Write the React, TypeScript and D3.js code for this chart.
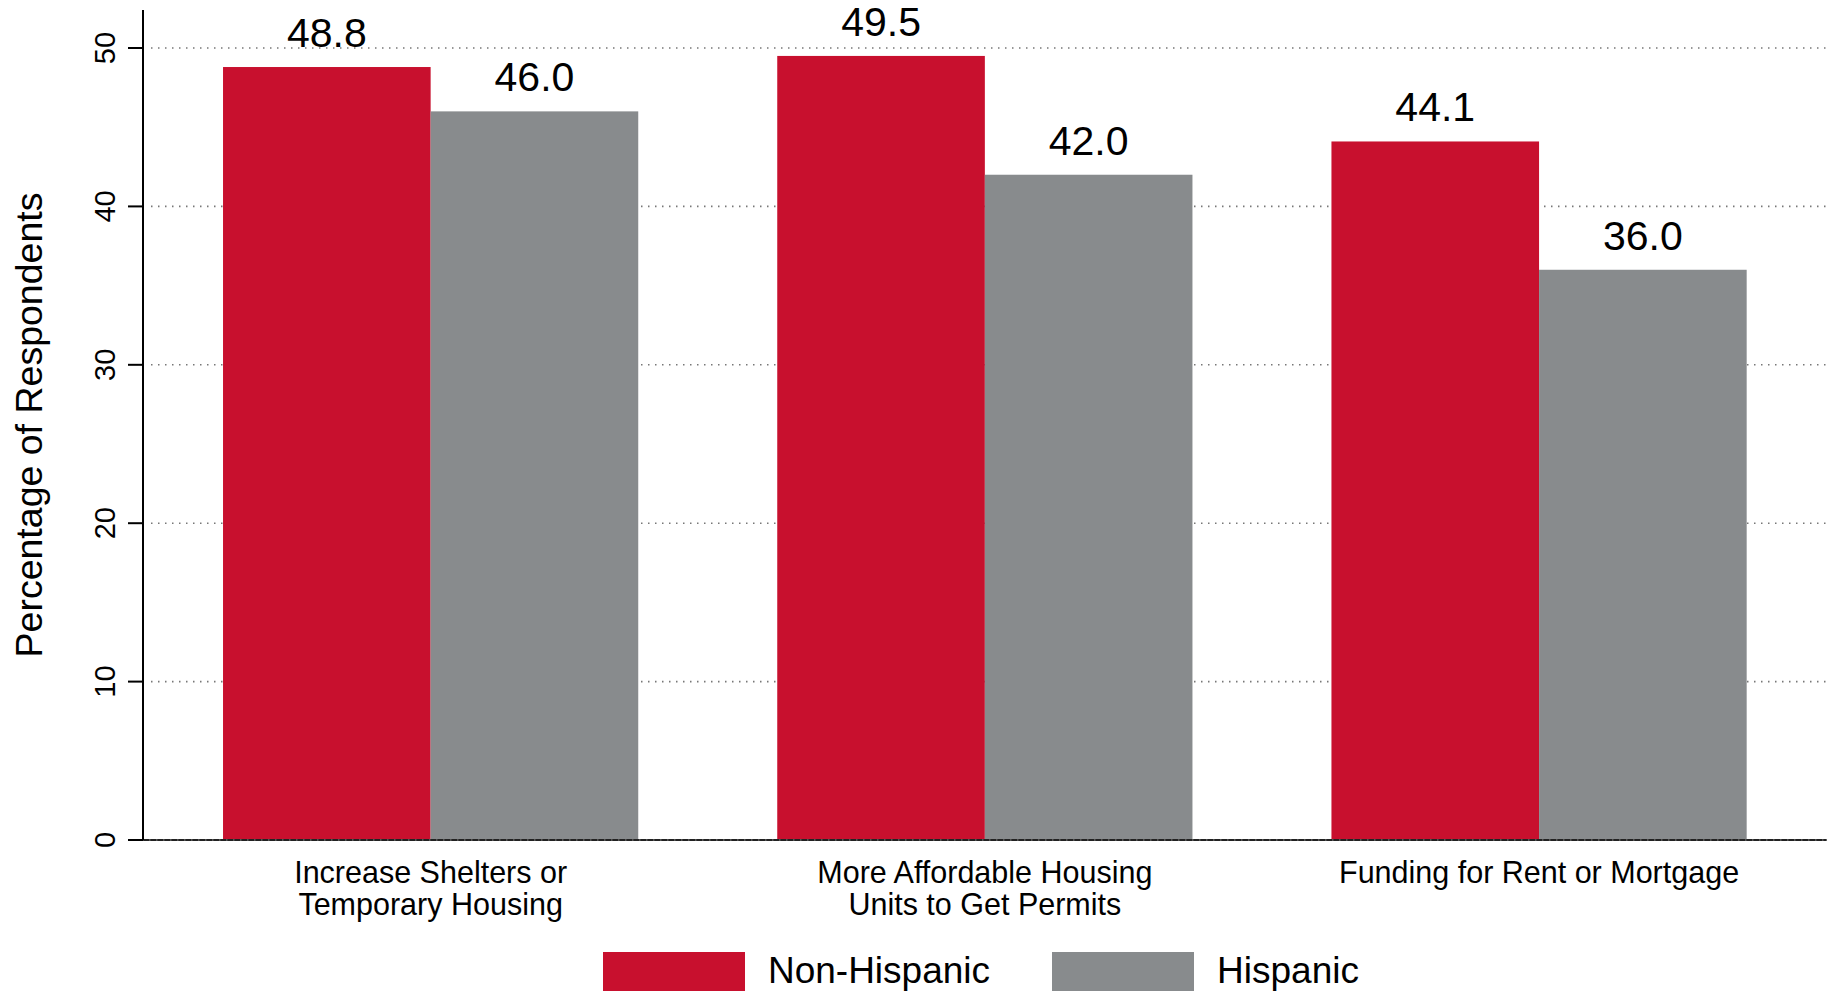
import React from "react";
import * as d3 from "d3";

const categories = [
  ["Increase Shelters or", "Temporary Housing"],
  ["More Affordable Housing", "Units to Get Permits"],
  ["Funding for Rent or Mortgage"],
];
const categoryKeys = ["c1", "c2", "c3"];
const seriesNames = ["Non-Hispanic", "Hispanic"];
const nonHispanic = [48.8, 49.5, 44.1];
const hispanic = [46.0, 42.0, 36.0];
const yTicks = [0, 10, 20, 30, 40, 50];
const colors = ["#C8102E", "#888B8D"];

const W = 1829;
const H = 991;
const FONT = "'Liberation Sans', Arial, Helvetica, sans-serif";

export default function App() {
  const left = 143;
  const right = 1826.7;
  const top = 10;
  const bottom = 840;

  const y = d3.scaleLinear().domain([0, 52.4]).range([bottom, top]);
  const x0 = d3
    .scaleBand()
    .domain(categoryKeys)
    .range([left, right])
    .paddingInner(0.2508)
    .paddingOuter(0.1444);
  const x1 = d3.scaleBand().domain(seriesNames).range([0, x0.bandwidth()]).padding(0);
  const series = [nonHispanic, hispanic];

  return (
    <svg
      width={W}
      height={H}
      style={{ position: "absolute", left: 0, top: 0, background: "#fff" }}
      fontFamily={FONT}
    >
      {yTicks
        .filter((t) => t > 0)
        .map((t) => (
          <line
            key={"g" + t}
            x1={left + 8}
            x2={W}
            y1={y(t)}
            y2={y(t)}
            stroke="#777"
            strokeWidth={1.6}
            strokeDasharray="1.5,5.5"
          />
        ))}
      {categoryKeys.map((k, i) => (
        <g key={k} transform={`translate(${x0(k)},0)`}>
          {seriesNames.map((s, j) => {
            const v = series[j][i];
            const bx = x1(s)!;
            const bw = x1.bandwidth();
            return (
              <g key={s}>
                <rect x={bx} y={y(v)} width={bw} height={y(0) - y(v)} fill={colors[j]} />
                <text
                  x={bx + bw / 2}
                  y={y(v) - 20}
                  textAnchor="middle"
                  fontSize={41}
                  fill="#000"
                >
                  {v.toFixed(1)}
                </text>
              </g>
            );
          })}
        </g>
      ))}
      <line x1={128} x2={right} y1={y(0)} y2={y(0)} stroke="#222" strokeWidth={2} />
      <line
        x1={128}
        x2={right}
        y1={y(0)}
        y2={y(0)}
        stroke="#888"
        strokeWidth={1}
        strokeDasharray="1.5,5.5"
      />
      <line x1={left} x2={left} y1={top} y2={bottom} stroke="#000" strokeWidth={2} />
      {yTicks.map((t) => (
        <g key={"t" + t}>
          <line x1={128} x2={left} y1={y(t)} y2={y(t)} stroke="#000" strokeWidth={2} />
          <text
            transform={`translate(115,${y(t)}) rotate(-90)`}
            textAnchor="middle"
            fontSize={29}
            fill="#000"
          >
            {t}
          </text>
        </g>
      ))}
      <text
        transform={`translate(42,${(top + bottom) / 2}) rotate(-90)`}
        textAnchor="middle"
        fontSize={37.5}
        fill="#000"
      >
        Percentage of Respondents
      </text>
      {categoryKeys.map((k, i) => (
        <text
          key={"l" + k}
          x={x0(k)! + x0.bandwidth() / 2}
          y={883}
          textAnchor="middle"
          fontSize={30.5}
          fill="#000"
        >
          {categories[i].map((line, li) => (
            <tspan key={li} x={x0(k)! + x0.bandwidth() / 2} dy={li === 0 ? 0 : 32}>
              {line}
            </tspan>
          ))}
        </text>
      ))}
      <rect x={603} y={952} width={142} height={50} fill={colors[0]} />
      <text x={768} y={983} fontSize={37} fill="#000" textLength={222} lengthAdjust="spacingAndGlyphs">
        {seriesNames[0]}
      </text>
      <rect x={1052} y={952} width={142} height={50} fill={colors[1]} />
      <text x={1217} y={983} fontSize={37} fill="#000" textLength={142} lengthAdjust="spacingAndGlyphs">
        {seriesNames[1]}
      </text>
    </svg>
  );
}
